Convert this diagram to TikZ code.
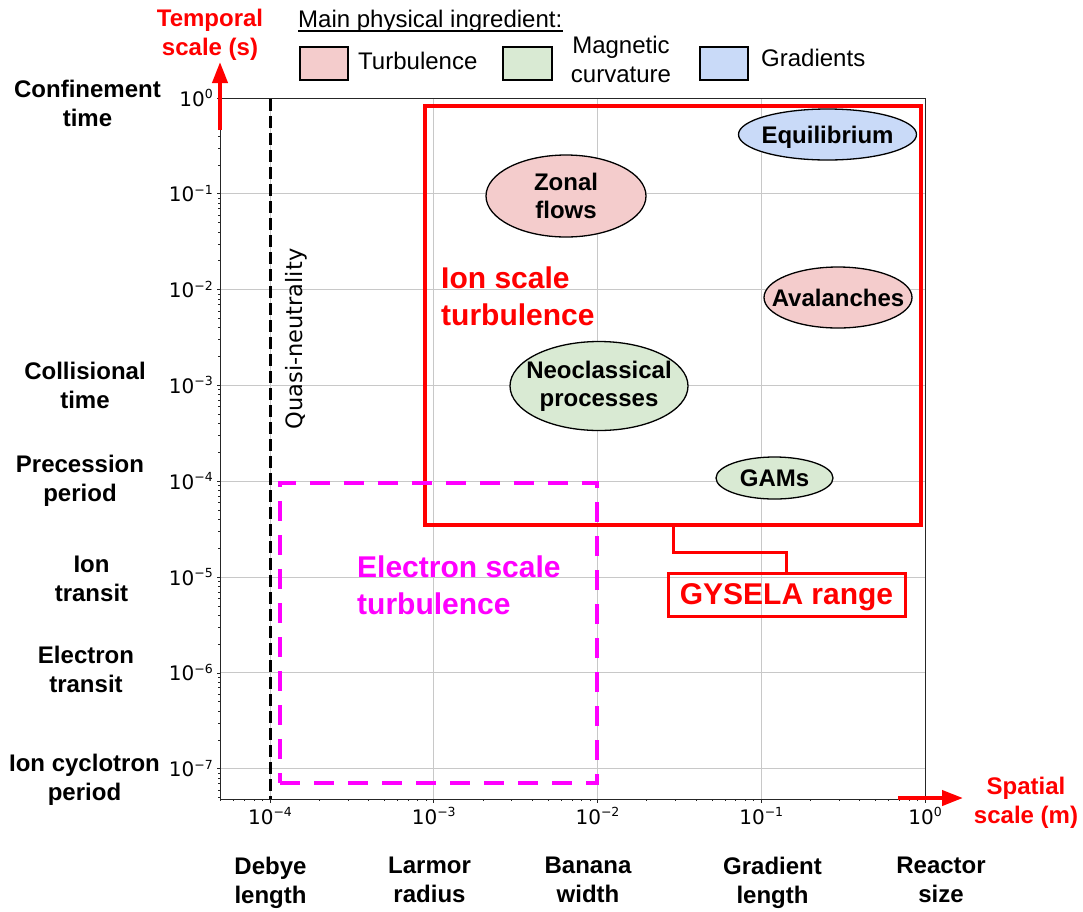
\documentclass[tikz,border=0pt]{standalone}
\usepackage{fontspec}
\setmainfont{Liberation Sans}
\newfontfamily\dejavu{DejaVu Sans}
\usetikzlibrary{shapes.geometric,arrows.meta,positioning,calc}

\definecolor{turbfill}{HTML}{F4CCCC}
\definecolor{curvfill}{HTML}{D9EAD3}
\definecolor{gradfill}{HTML}{C9DAF8}
\definecolor{gridgray}{HTML}{C8C8C8}
\definecolor{gyred}{HTML}{FF0000}
\definecolor{elecmag}{HTML}{FF00FF}

\newcommand{\tenpow}[1]{{\dejavu 10}\raisebox{7.5pt}{\fontsize{12.5}{12.5}\selectfont\dejavu #1}}

\tikzset{
  catlabel/.style={align=center, inner sep=0pt, font=\bfseries\fontsize{24}{29}\selectfont},
  legtext/.style={inner sep=0pt, font=\fontsize{24}{29}\selectfont},
  legbox/.style={draw=black, line width=1.3pt, inner sep=0pt},
  process/.style={ellipse, draw=black, line width=1.3pt, inner sep=0pt},
  proctext/.style={align=center, inner sep=0pt, font=\bfseries\fontsize{24}{28}\selectfont},
  ticklabel/.style={inner sep=0pt, font=\fontsize{20}{20}\selectfont},
  axistitle/.style={text=gyred, align=center, inner sep=0pt, font=\bfseries\fontsize{24}{29}\selectfont},
  regionlabel/.style={align=left, inner sep=0pt, font=\bfseries\fontsize{30}{36.5}\selectfont},
  gridline/.style={gridgray, line width=1pt},
  tickmark/.style={black!85, line width=0.8pt},
  axisarrow/.style={gyred, line width=4pt, -{Triangle[length=21pt,width=15pt]}},
}

\begin{document}
\begin{tikzpicture}[x=1pt,y=-1pt]
    \useasboundingbox (0,0) rectangle (1083,911);

    % grid
    \foreach \i in {1,...,4}
        \draw[gridline] ({925-163.75*\i},98) -- ({925-163.75*\i},799);
    \foreach \i in {1,...,7}
        \draw[gridline] (220,{98+95.83*\i}) -- (925,{98+95.83*\i});

    % ticks
    \begin{scope}
        \clip (205,97) rectangle (221,800);
        \foreach \e in {-8,...,-1}
            \foreach \k in {2,...,9}
                \draw[tickmark] (220,{98-95.83*(\e+ln(\k)/ln(10))}) -- ++(-2,0);
    \end{scope}
    \begin{scope}
        \clip (219,798) rectangle (926,810);
        \foreach \e in {-5,...,-1}
            \foreach \k in {2,...,9}
                \draw[tickmark] ({925+163.75*(\e+ln(\k)/ln(10))},799) -- ++(0,2);
    \end{scope}
    \foreach \i in {0,...,7}
        \draw[tickmark] (220,{98+95.83*\i}) -- ++(-3.5,0);
    \foreach \i in {0,...,4}
        \draw[tickmark] ({925-163.75*\i},799) -- ++(0,3.5);
    \draw[black!85, line width=1pt] (220,98) rectangle (925,799);

    % tick labels
    \foreach \i in {0,...,7}
        \node[ticklabel, anchor=base east] (yt\i) at (213,{98+95.83*\i+8}) {\tenpow{\ifnum\i=0 0\else −\i\fi}};
    \foreach \i in {0,...,4}
        \node[ticklabel, anchor=base] (xt\i) at ({925-163.75*\i},824) {\tenpow{\ifnum\i=0 0\else −\i\fi}};

    % quasi-neutrality
    \coordinate (qntop) at (270,99);
    \coordinate (qnbot) at (270,799);
    \draw[black, line width=3pt, dash pattern=on 12pt off 5pt] (qntop) -- (qnbot);
    \node[inner sep=0pt, rotate=90, anchor=base, font=\dejavu\fontsize{22.5}{22.5}\selectfont] (qnlabel) at (302,339) {Quasi-neutrality};

    % ranges
    \node[draw=gyred, line width=4.5pt, inner sep=0pt, minimum width=496pt, minimum height=419pt] (ionrange) at (673,315.5) {};
    \node[draw=elecmag, line width=4.5pt, dash pattern=on 20pt off 14pt, inner sep=0pt, minimum width=317pt, minimum height=300pt] (elecrange) at (438.5,633) {};
    \node[draw=gyred, line width=3pt, inner sep=0pt, minimum width=237pt, minimum height=43pt, text depth=0pt, text=gyred, font=\bfseries\fontsize{30}{30}\selectfont] (gysela) at (786.5,594.5) {GYSELA range};
    \draw[gyred, line width=3pt] (ionrange.south) -- ++(0,25) -| (gysela.north);

    \node[regionlabel, text=gyred, anchor=north west] (ionlabel) at (441,267) {Ion scale\\turbulence};
    \node[regionlabel, text=elecmag, anchor=north west] (eleclabel) at (357,556) {Electron scale\\turbulence};

    % processes
    \node[process, fill=gradfill, minimum width=178pt, minimum height=51pt, label={[proctext, text depth=0pt]center:Equilibrium}] (equil) at (827.5,134.5) {};
    \node[process, fill=turbfill, minimum width=160pt, minimum height=82pt, label={[proctext]center:Zonal\\flows}] (zonal) at (566,196) {};
    \node[process, fill=turbfill, minimum width=148pt, minimum height=61pt, label={[proctext]center:Avalanches}] (aval) at (838,297.5) {};
    \node[process, fill=curvfill, minimum width=178pt, minimum height=89pt, label={[proctext]center:Neoclassical\\processes}] (neo) at (599,386) {};
    \node[process, fill=curvfill, minimum width=117pt, minimum height=42pt, label={[proctext]center:GAMs}] (gams) at (774.5,478) {};

    % axis arrows
    \coordinate (tbase) at (220,130);
    \coordinate (ttip) at (220,62);
    \draw[axisarrow] (tbase) -- (ttip);
    \coordinate (sbase) at (898,798);
    \coordinate (stip) at (963,798);
    \draw[axisarrow] (sbase) -- (stip);
    \node[axistitle] (ttitle) at (210,35) {Temporal\\scale (s)};
    \node[axistitle] (stitle) at (1026,802.5) {Spatial\\scale (m)};

    % temporal categories
    \node[catlabel] (confine) at (87.5,103.5) {Confinement\\time};
    \node[catlabel] (collide) at (85,385) {Collisional\\time};
    \node[catlabel] (precess) at (80,480.5) {Precession\\period};
    \node[catlabel] (iontr) at (91.5,579) {Ion\\transit};
    \node[catlabel] (electr) at (86,669.5) {Electron\\transit};
    \node[catlabel] (cyclo) at (84.5,779.5) {Ion cyclotron\\period};

    % spatial categories
    \node[catlabel] (debye) at (270.5,882.5) {Debye\\length};
    \node[catlabel] (larmor) at (429.5,880) {Larmor\\radius};
    \node[catlabel] (banana) at (588,880) {Banana\\width};
    \node[catlabel] (gradlen) at (772.5,882.5) {Gradient\\length};
    \node[catlabel] (reactor) at (941,880) {Reactor\\size};

    % legend
    \node[legtext, anchor=base west] (legtitle) at (298,27) {Main physical ingredient:};
    \draw[line width=1.5pt] ([yshift=-4pt]legtitle.base west) -- ([yshift=-4pt]legtitle.base east);
    \node[legbox, fill=turbfill, minimum width=48pt, minimum height=33pt] (turbbox) at (324,63.5) {};
    \node[legtext, anchor=base west] (turbtext) at (358,69) {Turbulence};
    \node[legbox, fill=curvfill, minimum width=49pt, minimum height=33pt] (curvbox) at (527.5,63.5) {};
    \node[legtext, align=center] (curvtext) at (621,59.5) {Magnetic\\curvature};
    \node[legbox, fill=gradfill, minimum width=48pt, minimum height=33pt] (gradbox) at (724,63.5) {};
    \node[legtext, anchor=base west] (gradtext) at (761,66) {Gradients};
\end{tikzpicture}
\end{document}
